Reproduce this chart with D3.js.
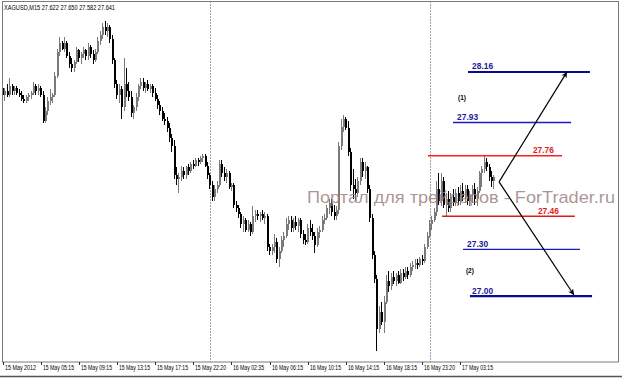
<!DOCTYPE html>
<html><head><meta charset="utf-8">
<script src="https://cdn.jsdelivr.net/npm/d3@7"></script>
<style>html,body{margin:0;padding:0;background:#fff;}svg{display:block}</style>
</head><body>
<svg id="c" width="622" height="379"></svg>
<script>
const symbolTitle = "XAGUSD,M15  27.622 27.650 27.582 27.641";
const open = [28.10,28.06,28.08,28.06,28.11,28.08,28.10,28.07,28.06,28.04,
28.03,28.05,28.06,28.07,28.11,28.08,28.10,28.06,27.93,27.98,
28.03,28.05,28.06,28.16,28.28,28.33,28.30,28.33,28.26,28.22,
28.20,28.23,28.29,28.25,28.27,28.29,28.26,28.31,28.27,28.24,
28.28,28.34,28.37,28.41,28.39,28.41,28.35,28.24,28.12,28.06,
28.09,28.00,28.12,28.08,28.05,27.97,28.00,28.05,28.11,28.13,
28.10,28.12,28.09,28.11,28.07,28.04,28.01,27.98,27.94,27.93,
27.89,27.84,27.80,27.65,27.63,27.64,27.67,27.65,27.69,27.67,
27.71,27.70,27.73,27.72,27.74,27.75,27.70,27.65,27.60,27.54,
27.58,27.60,27.71,27.66,27.64,27.66,27.59,27.60,27.50,27.48,
27.45,27.40,27.42,27.37,27.40,27.36,27.44,27.45,27.44,27.45,
27.43,27.44,27.28,27.26,27.28,27.31,27.22,27.26,27.32,27.34,
27.40,27.42,27.38,27.41,27.39,27.42,27.35,27.32,27.31,27.38,
27.36,27.34,27.29,27.36,27.37,27.42,27.43,27.48,27.51,27.46,
27.44,27.47,27.80,27.90,27.94,27.89,27.77,27.60,27.58,27.56,
27.62,27.72,27.67,27.69,27.58,27.43,27.24,27.12,26.86,26.95,
26.90,27.00,27.11,27.08,27.13,27.11,27.14,27.10,27.15,27.13,
27.16,27.14,27.18,27.19,27.20,27.19,27.22,27.21,27.28,27.34,
27.40,27.42,27.46,27.58,27.52,27.62,27.50,27.53,27.48,27.54,
27.51,27.56,27.52,27.57,27.54,27.58,27.52,27.55,27.58,27.53,
27.57,27.66,27.68,27.72,27.69,27.64,27.622];
const high = [28.14,28.10,28.12,28.15,28.12,28.11,28.11,28.09,28.08,28.06,
28.06,28.07,28.08,28.13,28.12,28.12,28.11,28.08,28.00,28.05,
28.09,28.07,28.18,28.30,28.36,28.34,28.36,28.34,28.28,28.25,
28.24,28.31,28.30,28.28,28.31,28.30,28.33,28.32,28.29,28.30,
28.36,28.39,28.43,28.44,28.43,28.42,28.37,28.25,28.14,28.12,
28.11,28.25,28.20,28.13,28.08,28.01,28.07,28.12,28.15,28.15,
28.13,28.14,28.12,28.12,28.10,28.06,28.03,28.00,27.97,27.95,
27.92,27.86,27.83,27.69,27.66,27.70,27.69,27.70,27.71,27.72,
27.73,27.74,27.74,27.75,27.76,27.76,27.72,27.66,27.62,27.60,
27.62,27.73,27.73,27.69,27.68,27.67,27.61,27.61,27.52,27.50,
27.46,27.44,27.43,27.42,27.41,27.49,27.47,27.47,27.46,27.47,
27.46,27.45,27.30,27.30,27.35,27.33,27.28,27.34,27.36,27.43,
27.44,27.44,27.43,27.44,27.43,27.43,27.37,27.35,27.40,27.42,
27.40,27.36,27.38,27.39,27.44,27.45,27.50,27.53,27.53,27.50,
27.49,27.82,27.94,27.96,27.95,27.93,27.79,27.68,27.63,27.64,
27.74,27.74,27.72,27.70,27.60,27.45,27.26,27.14,26.98,27.00,
27.03,27.14,27.16,27.15,27.16,27.15,27.16,27.17,27.17,27.18,
27.18,27.20,27.21,27.22,27.22,27.23,27.24,27.30,27.36,27.42,
27.44,27.48,27.62,27.66,27.66,27.64,27.56,27.57,27.56,27.58,
27.58,27.59,27.60,27.61,27.60,27.60,27.57,27.60,27.61,27.59,
27.67,27.70,27.75,27.74,27.71,27.67,27.650];
const low = [28.04,28.03,28.05,28.05,28.06,28.06,28.06,28.05,28.03,28.02,
28.02,28.03,28.04,28.06,28.06,28.06,28.05,27.92,27.92,27.96,
28.01,28.02,28.05,28.15,28.26,28.29,28.28,28.25,28.20,28.18,
28.18,28.22,28.23,28.22,28.25,28.24,28.24,28.25,28.22,28.23,
28.27,28.32,28.35,28.37,28.36,28.33,28.22,28.10,28.04,28.02,
27.94,27.98,28.05,28.03,27.95,27.94,27.98,28.03,28.09,28.08,
28.07,28.08,28.07,28.05,28.03,27.99,27.96,27.93,27.91,27.87,
27.82,27.77,27.63,27.60,27.56,27.62,27.63,27.63,27.65,27.66,
27.68,27.69,27.70,27.71,27.72,27.69,27.63,27.58,27.52,27.52,
27.56,27.59,27.64,27.62,27.61,27.58,27.57,27.48,27.46,27.43,
27.38,27.36,27.36,27.36,27.34,27.35,27.41,27.42,27.41,27.42,
27.40,27.26,27.24,27.24,27.25,27.20,27.18,27.25,27.28,27.33,
27.37,27.36,27.36,27.37,27.36,27.33,27.30,27.29,27.30,27.34,
27.32,27.25,27.28,27.33,27.36,27.40,27.42,27.45,27.44,27.42,
27.42,27.45,27.78,27.87,27.88,27.75,27.57,27.53,27.52,27.54,
27.60,27.64,27.63,27.56,27.41,27.22,27.10,26.75,26.84,26.88,
26.84,26.99,27.05,27.06,27.09,27.08,27.09,27.09,27.11,27.12,
27.12,27.13,27.16,27.17,27.17,27.18,27.19,27.20,27.27,27.33,
27.37,27.41,27.44,27.50,27.49,27.48,27.44,27.46,27.46,27.49,
27.49,27.50,27.50,27.52,27.51,27.50,27.49,27.51,27.50,27.49,
27.56,27.59,27.66,27.67,27.62,27.59,27.582];
const close = [28.06,28.08,28.06,28.11,28.08,28.10,28.07,28.06,28.04,28.03,
28.05,28.06,28.07,28.11,28.08,28.10,28.06,27.93,27.98,28.03,
28.05,28.06,28.16,28.28,28.33,28.30,28.33,28.26,28.22,28.20,
28.23,28.29,28.25,28.27,28.29,28.26,28.31,28.27,28.24,28.28,
28.34,28.37,28.41,28.39,28.41,28.35,28.24,28.12,28.06,28.09,
28.00,28.12,28.08,28.05,27.97,28.00,28.05,28.11,28.13,28.10,
28.12,28.09,28.11,28.07,28.04,28.01,27.98,27.94,27.93,27.89,
27.84,27.80,27.65,27.63,27.64,27.67,27.65,27.69,27.67,27.71,
27.70,27.73,27.72,27.74,27.75,27.70,27.65,27.60,27.54,27.58,
27.60,27.71,27.66,27.64,27.66,27.59,27.60,27.50,27.48,27.45,
27.40,27.42,27.37,27.40,27.36,27.44,27.45,27.44,27.45,27.43,
27.44,27.28,27.26,27.28,27.31,27.22,27.26,27.32,27.34,27.40,
27.42,27.38,27.41,27.39,27.42,27.35,27.32,27.31,27.38,27.36,
27.34,27.29,27.36,27.37,27.42,27.43,27.48,27.51,27.46,27.44,
27.47,27.80,27.90,27.94,27.89,27.77,27.60,27.58,27.56,27.62,
27.72,27.67,27.69,27.58,27.43,27.24,27.12,26.86,26.95,26.90,
27.00,27.11,27.08,27.13,27.11,27.14,27.10,27.15,27.13,27.16,
27.14,27.18,27.19,27.20,27.19,27.22,27.21,27.28,27.34,27.40,
27.42,27.46,27.58,27.52,27.62,27.50,27.53,27.48,27.54,27.51,
27.56,27.52,27.57,27.54,27.58,27.52,27.55,27.58,27.53,27.57,
27.66,27.68,27.72,27.69,27.64,27.62,27.641];

const tickIdx = [0,16,32,48,64,80,96,112,128,144,160,176,192];
const tickLabels = ["15 May 2012","15 May 05:15","15 May 09:15","15 May 13:15","15 May 17:15","15 May 22:20","16 May 02:35","16 May 06:15","16 May 10:15","16 May 14:15","16 May 18:15","16 May 23:20","17 May 03:15"];
const separatorIdx = [87, 179.2];

const levelPrice = [28.18, 27.92, 27.75, 27.44, 27.27, 27.03];
const levelLabel = ["28.16","27.93","27.76","27.46","27.30","27.00"];
const levelFrom = [195.2, 188.9, 178.4, 184.3, 193.1, 196.0];
const levelTo = [246.3, 238.4, 234.6, 240.0, 242.1, 247.2];
const levelLabelIdx = [196.9, 190.6, 222.4, 224.5, 194.8, 196.9];

const scenarioLabel = ["(1)","(2)"];
const scenarioIdx = [191.0, 194.3];
const scenarioPrice = [28.035, 27.150];

const arrowStart = {i: 208.2, p: 27.616};
const arrowEnds = [{i: 236.7, p: 28.18}, {i: 239.6, p: 27.036}];

const watermark = "Портал для трейдеров - ForTrader.ru";

// ---------- drawing ----------
const svg = d3.select("#c");
const W = 622, H = 379;
const plot = {l: 2.5, t: 1.5, r: 618.5, b: 362};

const x = d3.scaleLinear().domain([0, 256]).range([2.5, 2.5 + 256 * 2.385]);
const y = d3.scaleLinear().domain([27.0, 28.2]).range([302, 68]);

svg.append("rect").attr("width", W).attr("height", H).attr("fill", "#fff");

const defs = svg.append("defs");
defs.append("clipPath").attr("id", "clip").append("rect")
  .attr("x", plot.l).attr("y", plot.t).attr("width", plot.r - plot.l).attr("height", plot.b - plot.t);
defs.append("marker").attr("id", "ah").attr("viewBox", "0 0 10 10")
  .attr("refX", 10).attr("refY", 5).attr("markerWidth", 9).attr("markerHeight", 6)
  .attr("markerUnits", "userSpaceOnUse").attr("orient", "auto")
  .append("path").attr("d", "M0,0 L10,5 L0,10 L3,5 Z").attr("fill", "#000");

const g = svg.append("g").attr("clip-path", "url(#clip)");

// separators
g.selectAll("line.sep").data(separatorIdx).enter().append("line")
  .attr("x1", d => Math.round(x(d)) + 0.5).attr("x2", d => Math.round(x(d)) + 0.5)
  .attr("y1", plot.t).attr("y2", plot.b)
  .attr("stroke", "#444").attr("stroke-width", 1).attr("stroke-dasharray", "1,2");

// bars
const bars = open.map((o, i) => ({i, o, h: high[i], l: low[i], c: close[i]}));
const bg = g.append("g").attr("shape-rendering", "crispEdges");
bg.selectAll("line.w").data(bars).enter().append("line")
  .attr("x1", d => Math.floor(x(d.i)) + 0.5).attr("x2", d => Math.floor(x(d.i)) + 0.5)
  .attr("y1", d => y(d.h)).attr("y2", d => y(d.l))
  .attr("stroke", d => d.c >= d.o ? "#7a7a7a" : "#000").attr("stroke-width", 1);
bg.selectAll("rect.b").data(bars).enter().append("rect")
  .attr("x", d => Math.floor(x(d.i))).attr("width", 2)
  .attr("y", d => y(Math.max(d.o, d.c)))
  .attr("height", d => Math.max(1, Math.abs(y(d.o) - y(d.c))))
  .attr("fill", d => d.c >= d.o ? "#7a7a7a" : "#000");

// watermark
svg.append("text").attr("x", 307).attr("y", 202.5)
  .attr("font-family", "Liberation Sans, Arial, sans-serif").attr("font-size", 17)
  .attr("textLength", 308).attr("lengthAdjust", "spacingAndGlyphs")
  .attr("fill", "#9c8282").attr("fill-opacity", 0.85).text(watermark);

// levels
const levelStroke = ["#0a0a90", "#1a1ac8", "#ff2020", "#e01818", "#1a1acc", "#0a0a98"];
const levelWidth = [2, 1.5, 1.5, 1.5, 1.3, 2.2];
const levelText = ["#1a1a9a", "#1a1a9a", "#e01b1b", "#e01b1b", "#1a1a9a", "#1a1a9a"];
levelPrice.forEach((p, k) => {
  g.append("line").attr("x1", x(levelFrom[k])).attr("x2", x(levelTo[k]))
    .attr("y1", y(p)).attr("y2", y(p))
    .attr("stroke", levelStroke[k]).attr("stroke-width", levelWidth[k]);
  svg.append("text").attr("x", x(levelLabelIdx[k])).attr("y", y(p) - 2.6)
    .attr("font-family", "Liberation Sans, Arial, sans-serif").attr("font-weight", "bold")
    .attr("font-size", 8.5).attr("textLength", 21).attr("lengthAdjust", "spacingAndGlyphs")
    .attr("fill", levelText[k]).text(levelLabel[k]);
});

scenarioLabel.forEach((t, k) => {
  svg.append("text").attr("x", x(scenarioIdx[k])).attr("y", y(scenarioPrice[k]))
    .attr("font-family", "Liberation Sans, Arial, sans-serif").attr("font-weight", "bold")
    .attr("font-size", 6.5).attr("fill", "#000").text(t);
});

// arrows
arrowEnds.forEach(e => {
  svg.append("line").attr("x1", x(arrowStart.i)).attr("y1", y(arrowStart.p))
    .attr("x2", x(e.i)).attr("y2", y(e.p))
    .attr("stroke", "#000").attr("stroke-width", 1.2).attr("marker-end", "url(#ah)");
});

// frame
svg.append("rect").attr("x", plot.l).attr("y", plot.t)
  .attr("width", plot.r - plot.l).attr("height", plot.b - plot.t)
  .attr("fill", "none").attr("stroke", "#7a7a7a").attr("stroke-width", 1);
svg.append("line").attr("x1", 0).attr("x2", W).attr("y1", 376.5).attr("y2", 376.5)
  .attr("stroke", "#555").attr("stroke-width", 1.5);

// title
svg.append("text").attr("x", 4).attr("y", 9.5)
  .attr("font-family", "Liberation Sans, Arial, sans-serif").attr("font-size", 6.5)
  .attr("textLength", 111).attr("lengthAdjust", "spacingAndGlyphs")
  .attr("fill", "#000").text(symbolTitle);

// x axis ticks & labels
const ax = svg.append("g");
tickIdx.forEach((ti, k) => {
  const tx = Math.round(x(ti)) + 0.5;
  ax.append("line").attr("x1", tx).attr("x2", tx).attr("y1", plot.b).attr("y2", plot.b + 3)
    .attr("stroke", "#333").attr("stroke-width", 1);
  ax.append("text").attr("x", tx + 1.5).attr("y", 370)
    .attr("font-family", "Liberation Sans, Arial, sans-serif").attr("font-size", 6.6)
    .attr("textLength", 31).attr("lengthAdjust", "spacingAndGlyphs")
    .attr("fill", "#000").text(tickLabels[k]);
});
</script>
</body></html>
